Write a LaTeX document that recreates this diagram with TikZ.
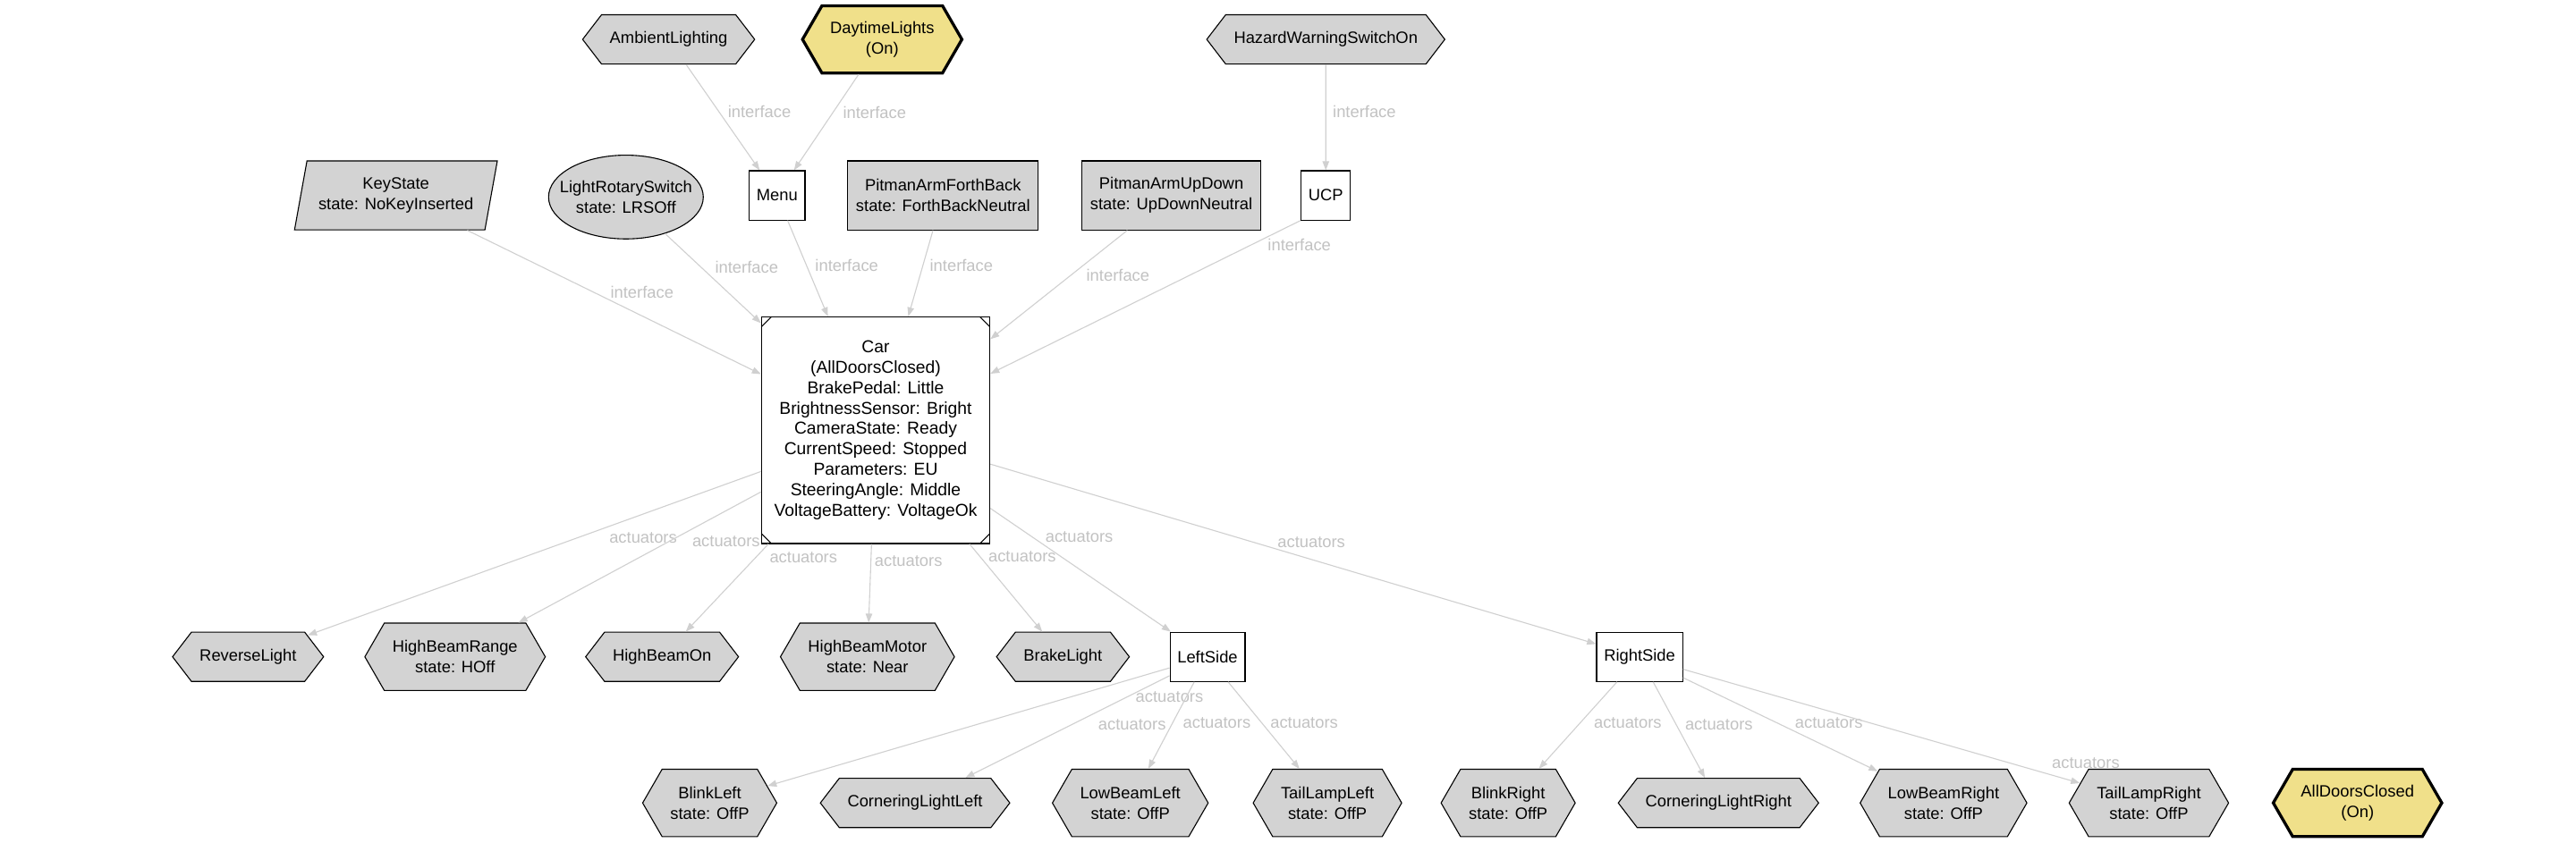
\documentclass[tikz,border=0pt]{standalone}
\usepackage{fontspec}
\setmainfont{Liberation Sans}
\usetikzlibrary{arrows.meta,positioning,shapes.geometric,shapes.symbols}
\definecolor{stategray}{HTML}{D3D3D3}
\definecolor{goalyellow}{HTML}{F0E08A}
\definecolor{edgegray}{HTML}{D0D0D0}
\definecolor{labelgray}{HTML}{C2C2C2}

\begin{document}
\begin{tikzpicture}[
  x=1pt, y=-1pt,
  font=\fontsize{10}{12.5}\selectfont,
  hex/.style={draw, signal, signal to=east and west, signal pointer angle=105,
              fill=stategray, line width=.6pt, inner xsep=5pt, inner ysep=0pt,
              minimum height=30pt, align=center},
  hextwo/.style={hex, signal pointer angle=120, minimum height=41pt},
  goal/.style={hextwo, fill=goalyellow, line width=1.8pt},
  comp/.style={draw, fill=white, line width=.6pt, minimum height=30pt, inner xsep=4.5pt},
  sensor/.style={draw, fill=stategray, line width=.6pt, minimum height=42pt,
                 inner xsep=5pt, align=center},
  carbox/.style={draw, fill=white, line width=.6pt, minimum width=139pt,
                 minimum height=138pt, align=center,
                 font=\fontsize{10.5}{12.4}\selectfont,
                 path picture={\draw[line width=.6pt]
                   ([yshift=-6pt]path picture bounding box.north west) -- ([xshift=6pt]path picture bounding box.north west)
                   ([yshift=-6pt]path picture bounding box.north east) -- ([xshift=-6pt]path picture bounding box.north east)
                   ([yshift=6pt]path picture bounding box.south west) -- ([xshift=6pt]path picture bounding box.south west)
                   ([yshift=6pt]path picture bounding box.south east) -- ([xshift=-6pt]path picture bounding box.south east);}},
  a/.style={-{Triangle[length=5.5pt,width=4pt]}, color=edgegray, line width=.6pt},
  lbl/.style={font=\fontsize{10}{12}\selectfont, text=labelgray, inner sep=1pt}
]
\useasboundingbox[fill=white] (0,0) rectangle (1568,513);

% ---- inputs ----
\node[hex]    (amb)  at (407, 24) {AmbientLighting};
\node[goal]   (day)  at (537, 24) {DaytimeLights\\(On)};
\node[hex]    (haz)  at (807, 24) {HazardWarningSwitchOn};

\node[sensor, trapezium, trapezium left angle=75, trapezium right angle=105,
      trapezium stretches=true, inner xsep=7pt]
              (key)  at (241,119) {KeyState\\state: NoKeyInserted};
\node[draw, ellipse, fill=stategray, line width=.6pt, minimum height=51pt,
      inner xsep=-7pt, inner ysep=0pt, align=center]
              (lrs)  at (381,120) {LightRotarySwitch\\state: LRSOff};
\node[comp]   (menu) at (473,119) {Menu};
\node[sensor] (pafb) at (574,119) {PitmanArmForthBack\\state: ForthBackNeutral};
\node[sensor] (paud) at (713,119) {PitmanArmUpDown\\state: UpDownNeutral};
\node[comp]   (ucp)  at (807,119) {UCP};

% ---- system ----
\node[carbox] (car)  at (533,262) {Car\\(AllDoorsClosed)\\BrakePedal: Little\\
  BrightnessSensor: Bright\\CameraState: Ready\\CurrentSpeed: Stopped\\
  Parameters: EU\\SteeringAngle: Middle\\VoltageBattery: VoltageOk};

% ---- actuators ----
\node[hex]    (rev)   at (151,400) {ReverseLight};
\node[hextwo] (hbr)   at (277,400) {HighBeamRange\\state: HOff};
\node[hex]    (hbon)  at (403,400) {HighBeamOn};
\node[hextwo] (hbm)   at (528,400) {HighBeamMotor\\state: Near};
\node[hex]    (brk)   at (647,400) {BrakeLight};
\node[comp]   (lside) at (735,400) {LeftSide};
\node[comp]   (rside) at (998,400) {RightSide};

\node[hextwo] (blL)   at (432,489) {BlinkLeft\\state: OffP};
\node[hex]    (corL)  at (557,489) {CorneringLightLeft};
\node[hextwo] (lowL)  at (688,489) {LowBeamLeft\\state: OffP};
\node[hextwo] (tailL) at (808,489) {TailLampLeft\\state: OffP};
\node[hextwo] (blR)   at (918,489) {BlinkRight\\state: OffP};
\node[hex]    (corR)  at (1046,489) {CorneringLightRight};
\node[hextwo] (lowR)  at (1183,489) {LowBeamRight\\state: OffP};
\node[hextwo] (tailR) at (1308,489) {TailLampRight\\state: OffP};
\node[goal]   (doors) at (1435,489) {AllDoorsClosed\\(On)};

% ---- interface edges ----
\draw[a] (amb)  -- node[lbl,pos=.45,right=4pt]{interface} (menu);
\draw[a] (day)  -- node[lbl,pos=.40,right=5pt]{interface} (menu);
\draw[a] (haz)  -- node[lbl,pos=.45,right=3pt]{interface} (ucp);
\draw[a] (key)  -- node[lbl,pos=.43,right=9pt]{interface} (car);
\draw[a] (lrs)  -- node[lbl,pos=.38,right=7pt]{interface} (car);
\draw[a] (menu) -- node[lbl,pos=.47,right=4pt]{interface} (car);
\draw[a] (pafb) -- node[lbl,pos=.41,right=3pt]{interface} (car);
\draw[a] (paud) -- node[lbl,pos=.41,right=8pt]{interface} (car);
\draw[a] (ucp.south west) -- node[lbl,pos=.16,right=9pt]{interface} (car);

% ---- actuator edges ----
\draw[a] (car) -- node[lbl,pos=.26,below=10pt]{actuators} (rev);
\draw[a] (car) -- node[lbl,pos=.38,right=13pt]{actuators} (hbr);
\draw[a] (car) -- node[lbl,pos=.15,right=7pt]{actuators} (hbon);
\draw[a] (car) -- node[lbl,pos=.22,right=1pt]{actuators} (hbm);
\draw[a] (car) -- node[lbl,pos=.14,right=4pt]{actuators} (brk);
\draw[a] (car) -- node[lbl,pos=.23,right=7pt]{actuators} (lside);
\draw[a] (car) -- node[lbl,pos=.53,above=6pt]{actuators} (rside);

\draw[a] (lside) -- node[lbl,pos=0,below=13pt]{actuators} (blL);
\draw[a] (lside) -- node[lbl,pos=.48,right=15pt]{actuators} (corL);
\draw[a] (lside) -- node[lbl,pos=.47,right=5pt]{actuators} (lowL);
\draw[a] (lside) -- node[lbl,pos=.47,right=4pt]{actuators} (tailL);
\draw[a] (rside) -- node[lbl,pos=.47,right=7pt]{actuators} (blR);
\draw[a] (rside) -- node[lbl,pos=.45,right=4pt]{actuators} (corR);
\draw[a] (rside) -- node[lbl,pos=.48,right=10pt]{actuators} (lowR);
\draw[a] (rside) -- node[lbl,pos=.92,above right=2pt and 1pt]{actuators} (tailR);
\end{tikzpicture}
\end{document}
